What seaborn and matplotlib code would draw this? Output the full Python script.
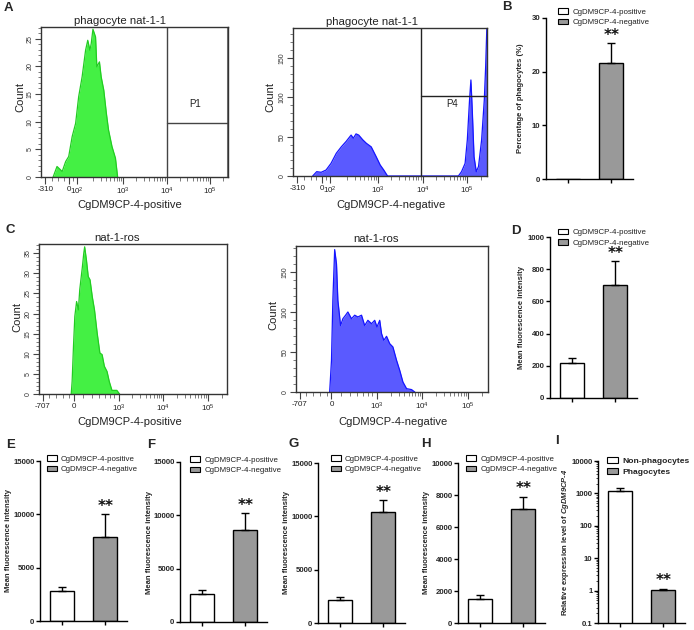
import matplotlib
matplotlib.use("Agg")
import matplotlib.pyplot as plt
import numpy as np
import seaborn as sns
from matplotlib.patches import Patch

W, H = 694, 630

# flow cytometry histograms: x in display decades (3 = 10^3), y = event count
a_pos_x = [1.38, 1.47, 1.59, 1.67, 1.74, 1.82, 1.90, 1.97, 2.05, 2.13, 2.18, 2.23,
           2.26, 2.30, 2.36, 2.39, 2.45, 2.49, 2.55, 2.61, 2.66, 2.74, 2.82, 2.87]
a_pos_count = [0, 1.9, 1.0, 2.8, 3.7, 7.3, 9.7, 14.5, 18.1, 22.9, 24.7, 22.9,
               24.1, 26.7, 25.3, 19.9, 20.8, 18.1, 15.7, 11.5, 8.5, 5.5, 3.4, 0]

a_neg_x = [1.54, 1.63, 1.73, 1.84, 1.95, 2.07, 2.18, 2.29, 2.40, 2.45, 2.51, 2.57,
           2.66, 2.74, 2.85, 2.96, 3.05, 3.13, 3.20, 3.22, 4.80, 4.87, 4.95, 5.00,
           5.05, 5.08, 5.11, 5.15, 5.20, 5.25, 5.32, 5.38, 5.41, 5.44]
a_neg_count = [0, 5.5, 4.7, 7.6, 16, 29, 37, 44, 52, 48, 53.5, 52,
               46, 41.6, 37, 24.6, 14, 7.6, 1.3, 0, 0, 5.5, 16, 46,
               97, 122, 84, 24.6, 5.5, 12, 46, 97, 139, 195]

c_pos_x = [1.94, 1.96, 1.99, 2.02, 2.06, 2.10, 2.13, 2.19, 2.22, 2.24, 2.28, 2.32,
           2.36, 2.41, 2.46, 2.52, 2.58, 2.63, 2.68, 2.74, 2.79, 2.85, 2.96, 3.02]
c_pos_count = [0, 3.1, 11.8, 19.3, 23, 20.9, 25.9, 31.7, 35, 36.6, 33.3, 29.2,
               28.4, 24.2, 20.9, 15.1, 10.2, 9.8, 6.9, 5.6, 3.1, 0.9, 0.9, 0]

c_neg_x = [1.96, 2.00, 2.03, 2.07, 2.11, 2.14, 2.20, 2.25, 2.31, 2.36, 2.44, 2.51,
           2.58, 2.66, 2.73, 2.80, 2.88, 2.95, 3.00, 3.06, 3.10, 3.15, 3.21, 3.28,
           3.35, 3.43, 3.50, 3.57, 3.65, 3.76, 3.83]
c_neg_count = [0, 39.6, 114.6, 178, 160, 114.6, 83, 91.6, 96, 100, 91.6, 96,
               93.8, 96, 83, 89.6, 85.4, 89.6, 81.3, 89.6, 73, 64.6, 69.6, 60.4,
               56.3, 39.6, 27, 12.5, 4.2, 3, 0]

# gates (x start in decades, y level in counts)
gate_p1 = (4.0, 9.8)
gate_p4 = (3.96, 102)

# bar charts: mean and upper error
groups = ["CgDM9CP-4-positive", "CgDM9CP-4-negative"]
b_mean, b_err = [0, 21.6], [0, 3.7]
d_mean, d_err = [218, 703], [32, 145]
e_mean, e_err = [2850, 7850], [350, 2200]
f_mean, f_err = [2600, 8650], [400, 1600]
g_mean, g_err = [2200, 10400], [250, 1150]
h_mean, h_err = [1500, 7100], [275, 800]
i_groups = ["Non-phagocytes", "Phagocytes"]
i_mean, i_err = [1200, 1.05], [300, 0.1]

bar_colors = ["white", "#999999"]

sns.set_style("ticks")
plt.rcParams["font.family"] = ["Liberation Sans", "DejaVu Sans"]
plt.rcParams["mathtext.fontset"] = "custom"
plt.rcParams["mathtext.rm"] = "Liberation Sans"
plt.rcParams["mathtext.it"] = "Liberation Sans:italic"
plt.rcParams["mathtext.bf"] = "Liberation Sans:bold"
plt.rcParams["mathtext.bfit"] = "Liberation Sans:italic:bold"

fig = plt.figure(figsize=(W / 100, H / 100), dpi=100)


def add_ax(l, t, r, b):
    return fig.add_axes([l / W, 1 - b / H, (r - l) / W, (b - t) / H])


def ftext(x, y, s, **kw):
    kw.setdefault("ha", "center")
    kw.setdefault("va", "center")
    fig.text(x / W, 1 - y / H, s, **kw)


def flow_panel(box, xs, counts, fill, edge, xlim, ylim, xt_pos, xt_lab, xminor,
               ymajor, yminor, title, title_xy, xlabel, xlabel_xy, count_xy):
    ax = add_ax(*box)
    ax.fill_between(xs, counts, color=fill, lw=0)
    sns.lineplot(x=xs, y=counts, ax=ax, color=edge, lw=0.9, sort=False, estimator=None)
    ax.set_xlim(xlim)
    ax.set_ylim(ylim)
    ax.set_xticks(xt_pos, xt_lab)
    ax.set_xticks(xminor, minor=True)
    ax.set_yticks(ymajor, [str(v) for v in ymajor])
    ax.set_yticks(yminor, minor=True)
    ax.tick_params(axis="x", which="major", labelsize=5.8, length=5, width=0.8, pad=1.5,
                   color="#444444", labelcolor="#222222")
    ax.tick_params(axis="x", which="minor", length=3, width=0.6, color="#666666")
    ax.tick_params(axis="y", which="major", labelsize=5, length=4, width=0.8, pad=1.5,
                   labelrotation=90, color="#444444", labelcolor="#333333")
    ax.tick_params(axis="y", which="minor", length=2.5, width=0.6, color="#666666")
    for lab in ax.get_yticklabels():
        lab.set_va("center")
    for s in ax.spines.values():
        s.set_linewidth(1.0)
        s.set_color("#333333")
    ax.set_xlabel("")
    ax.set_ylabel("")
    ftext(*title_xy, title, fontsize=8.2, color="#222222")
    ftext(*xlabel_xy, xlabel, fontsize=8, color="#222222")
    ftext(*count_xy, "Count", fontsize=8, rotation=90, color="#222222")
    return ax


def bar_panel(box, cats, means, errs, ylim, yticks, ylabel, ylabel_x, legend_xy,
              log=False, legend_bold=False, ytick_labels=None):
    ax = add_ax(*box)
    if log:
        ax.set_yscale("log")
    sns.barplot(x=cats, y=means, hue=cats, palette=bar_colors, legend=False,
                edgecolor="black", linewidth=1.0, width=0.56, errorbar=None,
                saturation=1, ax=ax)
    for i, (m, e) in enumerate(zip(means, errs)):
        if e > 0:
            ax.errorbar(i, m, yerr=[[0], [e]], fmt="none", ecolor="black",
                        elinewidth=1.0, capsize=3, capthick=1.0, zorder=3)
    ax.annotate("**", (1, means[1] + errs[1]), xytext=(0, 5.5), textcoords="offset points",
                ha="center", va="center", fontsize=11, fontweight="bold",
                family="DejaVu Sans", color="#111111")
    ax.set_xlim(-0.5, 1.5)
    ax.set_ylim(ylim)
    if ytick_labels is None:
        ytick_labels = [str(v) for v in yticks]
    ax.set_yticks(yticks, ytick_labels)
    if log:
        minors = [k * 10.0 ** d for d in range(-1, 4) for k in range(2, 10)]
        ax.set_yticks(minors, minor=True)
        ax.tick_params(axis="y", which="minor", length=1.5, width=0.6)
    else:
        ax.minorticks_off()
    ax.set_xticks([0, 1], ["", ""])
    ax.tick_params(axis="both", which="major", length=3, width=1.0, pad=1,
                   labelsize=5.6, color="black")
    for lab in ax.get_yticklabels():
        lab.set_fontweight("bold")
    sns.despine(ax=ax)
    for s in ("left", "bottom"):
        ax.spines[s].set_linewidth(1.0)
        ax.spines[s].set_color("black")
    ax.set_xlabel("")
    ax.set_ylabel(ylabel, fontsize=5.5, fontweight="bold")
    l, t, r, b = box
    ax.yaxis.set_label_coords((ylabel_x - l) / (r - l), 0.5)
    handles = [Patch(facecolor=c, edgecolor="black", lw=0.8, label=g)
               for c, g in zip(bar_colors, cats)]
    lx, ly = legend_xy
    leg = ax.legend(handles=handles, loc="upper left",
                    bbox_to_anchor=(lx / W, 1 - (ly - 4.5) / H),
                    bbox_transform=fig.transFigure, frameon=False,
                    fontsize=6.1 if legend_bold else 5.7,
                    handlelength=1.3, handleheight=0.7, handletextpad=0.5,
                    labelspacing=0.35, borderpad=0, borderaxespad=0)
    for txt in leg.get_texts():
        txt.set_color("#222222")
        if legend_bold:
            txt.set_fontweight("bold")
    return ax


a_ticks = [1.2, 1.74, 1.93, 3, 4, 5]
a_labels = ["-310", "0", "$10^{2}$", "$10^{3}$", "$10^{4}$", "$10^{5}$"]
a_minor = [1.35, 1.5, 1.62, 1.84] + list(np.log10([k * 10.0 ** d for d in (2, 3, 4) for k in range(2, 10)])) + [np.log10(2e5)]
c_ticks = [1.3, 2.0, 3, 4, 5]
c_labels = ["-707", "0", "$10^{3}$", "$10^{4}$", "$10^{5}$"]
c_minor = [1.45, 1.6, 1.75, 1.9, 2.2, 2.4, 2.55, 2.7, 2.8, 2.9] + list(np.log10([k * 10.0 ** d for d in (3, 4) for k in range(2, 10)])) + [np.log10(2e5)]

# A: phagocytosis histograms
ax = flow_panel((41, 27, 228, 177), a_pos_x, a_pos_count, "#44f044", "#22cc22",
                (1.1, 5.42), (0, 27.1), a_ticks, a_labels, a_minor,
                [0, 5, 10, 15, 20, 25], list(range(0, 28)),
                "phagocyte nat-1-1", (120, 21), "CgDM9CP-4-positive", (130, 205), (20, 97))
ax.axvline(gate_p1[0], color="#444444", lw=1.0)
ax.axvline(5.41, color="#777777", lw=2.2)
ax.plot([gate_p1[0], 5.42], [gate_p1[1], gate_p1[1]], color="#444444", lw=1.0)
ax.text(4.66, 13.2, "P1", fontsize=7, ha="center", va="center", color="#222222")

ax = flow_panel((293, 28, 487, 176), a_neg_x, a_neg_count, "#5a5aff", "#1515ff",
                (1.1, 5.44), (0, 188), a_ticks, a_labels, a_minor,
                [0, 50, 100, 150], list(range(0, 190, 10)),
                "phagocyte nat-1-1", (372, 22), "CgDM9CP-4-negative", (391, 205), (270, 97))
ax.axvline(gate_p4[0], color="#222222", lw=1.0)
ax.plot([gate_p4[0], 5.44], [gate_p4[1], gate_p4[1]], color="#222222", lw=1.0)
ax.text(4.65, 91.7, "P4", fontsize=7, ha="center", va="center", color="#222222")

# C: ROS histograms
flow_panel((39, 244, 227, 394), c_pos_x, c_pos_count, "#44f044", "#22cc22",
           (1.22, 5.42), (0, 37.3), c_ticks, c_labels, c_minor,
           [0, 5, 10, 15, 20, 25, 30, 35], list(range(0, 38)),
           "nat-1-ros", (117, 238), "CgDM9CP-4-positive", (130, 422), (17, 317))
flow_panel((296, 246, 488, 392), c_neg_x, c_neg_count, "#5a5aff", "#1515ff",
           (1.22, 5.44), (0, 182.5), c_ticks, c_labels, c_minor,
           [0, 50, 100, 150], list(range(0, 181, 10)),
           "nat-1-ros", (376, 239), "CgDM9CP-4-negative", (393, 422), (273, 315))

# bar panels
bar_panel((546, 18, 633, 179), groups, b_mean, b_err, (0, 30), [0, 10, 20, 30],
          "Percentage of phagocytes (%)", 524, (558, 12.7))
bar_panel((550, 237, 637, 398), groups, d_mean, d_err, (0, 1000),
          [0, 200, 400, 600, 800, 1000], "Mean fluorescence intensity", 525, (558, 233.3))
bar_panel((40, 461, 127, 621), groups, e_mean, e_err, (0, 15000), [0, 5000, 10000, 15000],
          "Mean fluorescence intensity", 12, (46.7, 460))
bar_panel((180, 462, 267, 622), groups, f_mean, f_err, (0, 15000), [0, 5000, 10000, 15000],
          "Mean fluorescence intensity", 152.7, (190, 461))
bar_panel((318, 463, 405, 623), groups, g_mean, g_err, (0, 15000), [0, 5000, 10000, 15000],
          "Mean fluorescence intensity", 290, (330.7, 460))
bar_panel((458, 463, 545, 623), groups, h_mean, h_err, (0, 10000),
          [0, 2000, 4000, 6000, 8000, 10000], "Mean fluorescence intensity", 430, (466, 460))
bar_panel((598, 461, 685, 623), i_groups, i_mean, i_err, (0.1, 10000),
          [0.1, 1, 10, 100, 1000, 10000],
          r"Relative expression level of $\mathbfit{CgDM9CP}$-$\mathbfit{4}$", 571.3,
          (607.3, 461.7), log=True, legend_bold=True,
          ytick_labels=["0.1", "1", "10", "100", "1000", "10000"])

# panel letters
for letter, x, y in [("A", 8, 8), ("B", 507, 7), ("C", 10, 230), ("D", 516, 231),
                     ("E", 11, 445), ("F", 151, 445), ("G", 294, 444), ("H", 426, 444),
                     ("I", 557, 441)]:
    ftext(x, y, letter, fontsize=9.5, fontweight="bold")

fig.savefig("out.png", dpi=100)
